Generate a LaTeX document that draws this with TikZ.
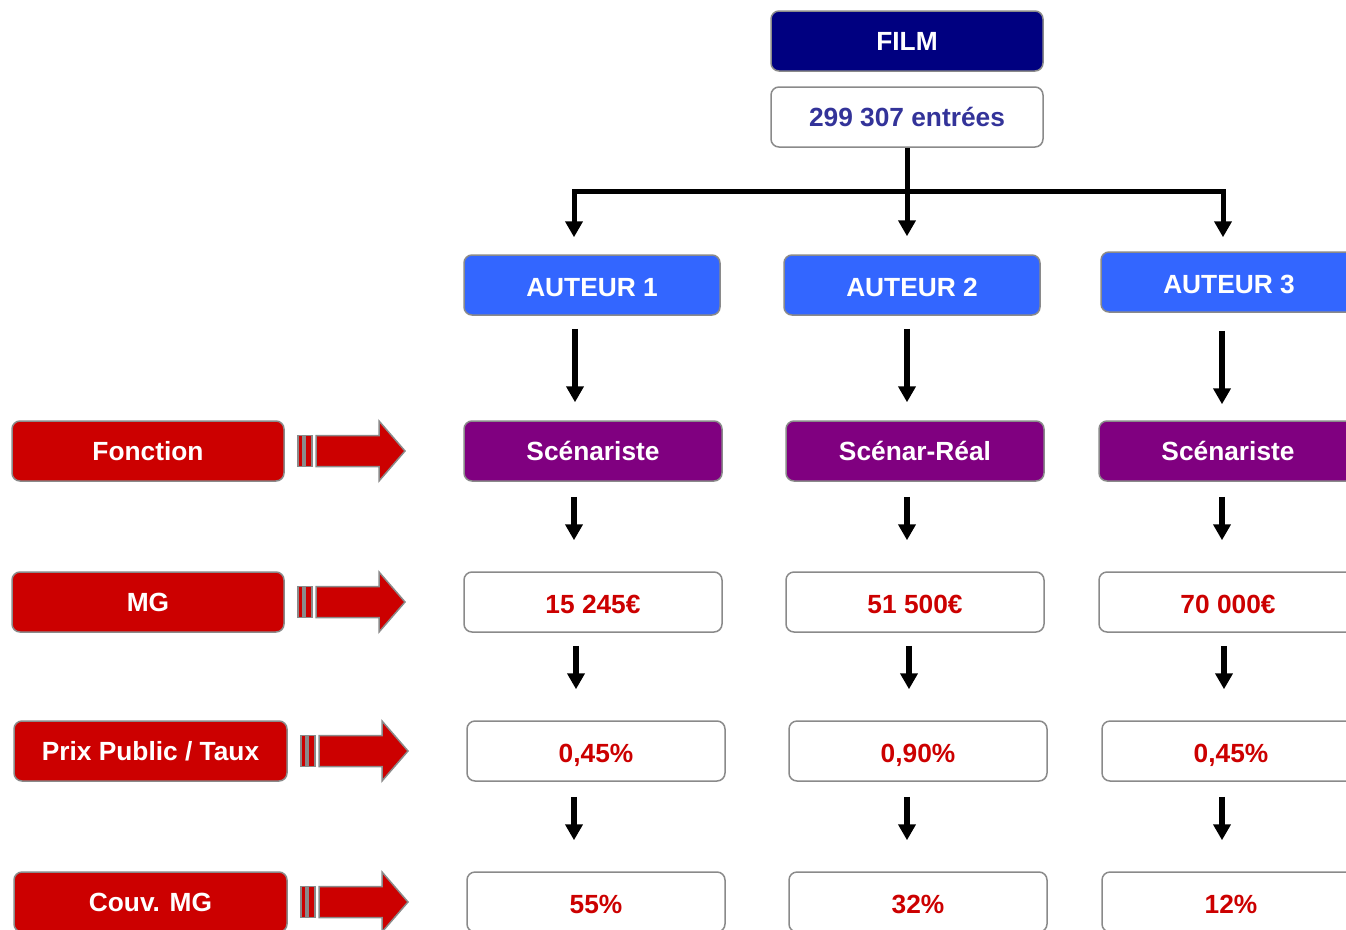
\documentclass[tikz,border=0pt]{standalone}
\usepackage{fontspec}
\setmainfont{Liberation Sans}
\usetikzlibrary{arrows.meta}
\definecolor{navyc}{HTML}{000080}
\definecolor{bluec}{HTML}{3366FF}
\definecolor{purplec}{HTML}{800080}
\definecolor{redc}{HTML}{CC0000}
\definecolor{entc}{HTML}{333399}
\definecolor{edgec}{HTML}{8A8A8A}
\tikzset{
  box/.style={draw=edgec, line width=1.5pt, rounded corners=8pt, minimum height=60pt,
    inner sep=0pt, font=\bfseries\fontsize{26.3}{30}\selectfont},
  low/.style={text height=22.8pt, text depth=0pt},
  wbox/.style={box, low, fill=white, minimum width=258pt, text=redc},
  topbox/.style={box, minimum width=272pt},
  authbox/.style={box, low, fill=bluec, text=white, minimum width=256pt},
  funcbox/.style={box, fill=purplec, text=white, minimum width=258pt},
  lbox/.style={box, fill=redc, text=white, minimum width=272pt},
  tip/.tip={Triangle[width=17pt,length=16pt]},
  arr/.style={line width=5.5pt, -tip},
  tline/.style={line width=5pt},
  striped/.pic={
    \path[fill=redc, draw=edgec, line width=1.5pt] (0,-15.5) rectangle (5,15.5);
    \path[fill=redc, draw=edgec, line width=1.5pt] (7,-15.5) rectangle (14,15.5);
    \path[fill=redc, draw=edgec, line width=1.5pt, line join=miter]
      (18,-15.5) -- (81,-15.5) -- (81,-30) -- (107,0) -- (81,30) -- (81,15.5) -- (18,15.5) -- cycle;
  }
}
\begin{document}
\begin{tikzpicture}[x=1pt,y=-1pt]
\useasboundingbox (0,0) rectangle (1346,929);
% top
\node[topbox, fill=navyc, text=white] (film) at (907,41) {FILM};
\node[topbox, fill=white, text=entc] (ent) at (907,117) {299 307 entrées};
% authors
\node[authbox] (a1) at (592,285) {AUTEUR 1};
\node[authbox] (a2) at (912,285) {AUTEUR 2};
\node[authbox] (a3) at (1229,282) {AUTEUR 3};
% functions
\node[funcbox] (f1) at (593,451) {Scénariste};
\node[funcbox] (f2) at (915,451) {Scénar-Réal};
\node[funcbox] (f3) at (1228,451) {Scénariste};
% MG
\node[wbox] (m1) at (593,602) {15 245€};
\node[wbox] (m2) at (915,602) {51 500€};
\node[wbox] (m3) at (1228,602) {70 000€};
% taux
\node[wbox] (t1) at (596,751) {0,45\%};
\node[wbox] (t2) at (918,751) {0,90\%};
\node[wbox] (t3) at (1231,751) {0,45\%};
% couv
\node[wbox] (c1) at (596,902) {55\%};
\node[wbox] (c2) at (918,902) {32\%};
\node[wbox] (c3) at (1231,902) {12\%};
% left labels
\node[lbox] (lf) at (148,451) {Fonction};
\node[lbox] (lm) at (148,602) {MG};
\node[lbox, minimum width=273pt] (lt) at (150.5,751) {Prix Public / Taux};
\node[lbox, minimum width=273pt] (lc) at (150.5,902) {Couv. MG};
% striped arrows
\pic at (298,451) {striped};
\pic at (298,602) {striped};
\pic at (301,751) {striped};
\pic at (301,902) {striped};
% tree
\coordinate (hl) at (574,191);
\coordinate (hr) at (1223,191);
\draw[tline, tip-tip, shorten <=17pt, shorten >=14pt, line join=miter]
  (a1.north -| hl) -- (hl) -- (hr) -- (a3.north -| hr);
\draw[arr, line width=5pt, shorten >=18pt] (ent.south) -- (a2.north -| ent.south);
% column arrows
\coordinate (x1) at (575,0);
\coordinate (x2) at (907,0);
\coordinate (x3) at (1222,0);
\coordinate (y1) at (576,0);
\coordinate (y2) at (909,0);
\coordinate (y3) at (1224,0);
\draw[arr, shorten <=13pt, shorten >=18pt] (a1.south -| x1) -- (f1.north -| x1);
\draw[arr, shorten <=13pt, shorten >=18pt] (a2.south -| x2) -- (f2.north -| x2);
\draw[arr, shorten <=18pt, shorten >=16pt] (a3.south -| x3) -- (f3.north -| x3);
\draw[arr, shorten <=15pt, shorten >=31pt] (f1.south -| hl) -- (m1.north -| hl);
\draw[arr, shorten <=15pt, shorten >=31pt] (f2.south -| x2) -- (m2.north -| x2);
\draw[arr, shorten <=15pt, shorten >=31pt] (f3.south -| x3) -- (m3.north -| x3);
\draw[arr, shorten <=13pt, shorten >=31pt] (m1.south -| y1) -- (t1.north -| y1);
\draw[arr, shorten <=13pt, shorten >=31pt] (m2.south -| y2) -- (t2.north -| y2);
\draw[arr, shorten <=13pt, shorten >=31pt] (m3.south -| y3) -- (t3.north -| y3);
\draw[arr, shorten <=15pt, shorten >=31pt] (t1.south -| hl) -- (c1.north -| hl);
\draw[arr, shorten <=15pt, shorten >=31pt] (t2.south -| x2) -- (c2.north -| x2);
\draw[arr, shorten <=15pt, shorten >=31pt] (t3.south -| x3) -- (c3.north -| x3);
\end{tikzpicture}
\end{document}
